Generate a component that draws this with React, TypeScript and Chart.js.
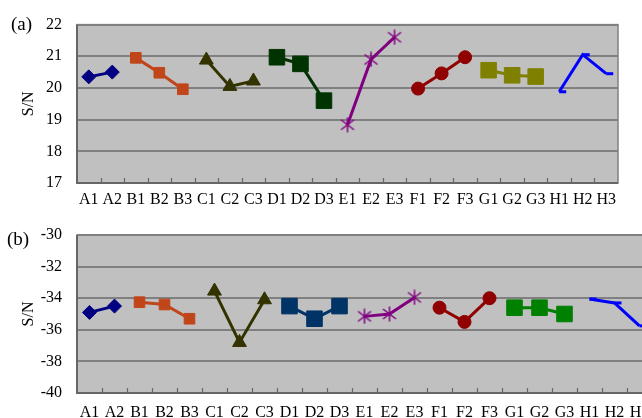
import React, { useEffect, useRef } from 'react';
import { Chart, registerables } from 'chart.js';
Chart.register(...registerables);

const categories = ['A1','A2','B1','B2','B3','C1','C2','C3','D1','D2','D3','E1','E2','E3','F1','F2','F3','G1','G2','G3','H1','H2','H3'];
const factors = ['A','B','C','D','E','F','G','H'];

// panel (a) S/N values
const topA = [20.35, 20.5];
const topB = [20.95, 20.48, 19.96];
const topC = [20.88, 20.05, 20.22];
const topD = [20.97, 20.76, 19.6];
const topE = [18.84, 20.9, 21.6];
const topF = [19.98, 20.46, 20.97];
const topG = [20.56, 20.4, 20.36];
const topH = [19.88, 21.05, 20.45];

// panel (b) S/N values
const botA = [-34.9, -34.5];
const botB = [-34.25, -34.4, -35.3];
const botC = [-33.55, -36.8, -34.1];
const botD = [-34.5, -35.3, -34.5];
const botE = [-35.15, -35.0, -33.95];
const botF = [-34.6, -35.5, -34.0];
const botG = [-34.6, -34.6, -35.0];
const botH = [-34.05, -34.3, -35.75];

const yTicksTop = [17, 18, 19, 20, 21, 22];
const yTicksBottom = [-40, -38, -36, -34, -32, -30];

const topColors = ['#000080', '#c0461a', '#333300', '#003300', '#800080', '#900000', '#808000', '#0000ff'];
const botColors = ['#000080', '#c0461a', '#333300', '#003366', '#800080', '#900000', '#008000', '#0000ff'];
const markerStyles = ['rectRot', 'rect', 'triangle', 'rect', 'star', 'circle', 'rect', 'dash'];
const markerRadii = [7, 7.5, 8, 11, 7, 6.5, 11, 7];

function seriesData(factor: string, values: number[]) {
  return categories.map((c) => (c[0] === factor ? values[Number(c.slice(1)) - 1] : null));
}

function makeStar(color: string) {
  const cv = document.createElement('canvas');
  cv.width = 16;
  cv.height = 16;
  const c = cv.getContext('2d')!;
  c.strokeStyle = color;
  c.lineWidth = 1.5;
  c.beginPath();
  c.moveTo(1.5, 3); c.lineTo(14.5, 13);
  c.moveTo(14.5, 3); c.lineTo(1.5, 13);
  c.moveTo(8, 0.5); c.lineTo(8, 15.5);
  c.stroke();
  return cv;
}

function buildDatasets(values: number[][], colors: string[]) {
  return factors.map((f, i) => {
    const color = colors[i];
    const style: any = markerStyles[i] === 'star' ? makeStar(color) : markerStyles[i];
    const isDash = markerStyles[i] === 'dash';
    return {
      label: f,
      data: seriesData(f, values[i]),
      borderColor: color,
      backgroundColor: color,
      borderWidth: 3,
      pointStyle: style,
      pointRadius: markerRadii[i],
      pointBackgroundColor: color,
      pointBorderColor: color,
      pointBorderWidth: isDash ? 3 : 1,
      spanGaps: false,
      tension: 0,
      clip: false as any,
    };
  });
}

const framePlugin = {
  id: 'plotFrame',
  beforeDraw(chart: any) {
    const { ctx, chartArea: a } = chart;
    ctx.save();
    ctx.fillStyle = '#c0c0c0';
    ctx.fillRect(a.left, a.top, a.right - a.left, a.bottom - a.top);
    ctx.restore();
  },
  beforeDatasetsDraw(chart: any) {
    const { ctx, chartArea: a, scales } = chart;
    const x = scales.x;
    ctx.save();
    ctx.strokeStyle = '#808080';
    ctx.lineWidth = 1.5;
    ctx.strokeRect(a.left, a.top, a.right - a.left, a.bottom - a.top);
    ctx.strokeStyle = '#666666';
    ctx.lineWidth = 2;
    ctx.beginPath();
    ctx.moveTo(a.left, a.top);
    ctx.lineTo(a.left, a.bottom);
    ctx.lineTo(a.right, a.bottom);
    ctx.stroke();
    ctx.lineWidth = 1.2;
    ctx.beginPath();
    for (let i = 1; i < categories.length; i++) {
      const px = Math.round((x.getPixelForValue(i - 1) + x.getPixelForValue(i)) / 2) + 0.5;
      ctx.moveTo(px, a.bottom);
      ctx.lineTo(px, a.bottom - 5);
    }
    ctx.stroke();
    ctx.restore();
  },
};

function makeConfig(datasets: any[], yTicks: number[], pad: any, xHeight: number, xPad: number) {
  const font = { family: '"Liberation Serif", "Times New Roman", serif', size: 16 };
  return {
    type: 'line' as const,
    data: { labels: categories, datasets },
    plugins: [framePlugin],
    options: {
      responsive: false,
      animation: false as const,
      layout: { padding: pad },
      plugins: { legend: { display: false }, tooltip: { enabled: false } },
      scales: {
        x: {
          type: 'category' as const,
          offset: true,
          grid: { display: false, drawTicks: false },
          border: { display: false },
          ticks: { autoSkip: false, maxRotation: 0, minRotation: 0, padding: xPad, color: '#000', font },
          afterFit: (s: any) => { s.height = xHeight; },
        },
        y: {
          min: yTicks[0],
          max: yTicks[yTicks.length - 1],
          afterBuildTicks: (s: any) => { s.ticks = yTicks.map((v) => ({ value: v })); },
          grid: { color: '#808080', lineWidth: 2, drawTicks: false },
          border: { display: false },
          ticks: { padding: 15, color: '#000', font },
          title: { display: true, text: 'S/N', color: '#000', font, padding: { top: 19, bottom: 0 } },
          afterFit: (s: any) => { s.width = 77; },
        },
      },
    },
  };
}

export default function App() {
  const topRef = useRef<HTMLCanvasElement>(null);
  const botRef = useRef<HTMLCanvasElement>(null);

  useEffect(() => {
    const topDs = buildDatasets([topA, topB, topC, topD, topE, topF, topG, topH], topColors);
    const botDs = buildDatasets([botA, botB, botC, botD, botE, botF, botG, botH], botColors);
    const c1 = new Chart(topRef.current!, makeConfig(topDs, yTicksTop, { top: 16, right: 24, left: 0, bottom: 0 }, 27, 7) as any);
    const c2 = new Chart(botRef.current!, makeConfig(botDs, yTicksBottom, { top: 25, right: 48, left: 0, bottom: 0 }, 25, 10) as any);
    return () => { c1.destroy(); c2.destroy(); };
  }, []);

  const labelStyle: React.CSSProperties = {
    position: 'absolute',
    fontFamily: '"Liberation Serif", "Times New Roman", serif',
    fontSize: 19,
    lineHeight: '22px',
    color: '#000',
  };

  return (
    <div style={{ position: 'fixed', left: 0, top: 0, width: 642, height: 418, overflow: 'hidden', background: '#fff' }}>
      <canvas ref={topRef} width={642} height={210} style={{ position: 'absolute', left: 0, top: 0, width: 642, height: 210 }} />
      <canvas ref={botRef} width={700} height={208} style={{ position: 'absolute', left: 0, top: 210, width: 700, height: 208 }} />
      <div style={{ ...labelStyle, left: 11, top: 13 }}>(a)</div>
      <div style={{ ...labelStyle, left: 7, top: 228 }}>(b)</div>
    </div>
  );
}
